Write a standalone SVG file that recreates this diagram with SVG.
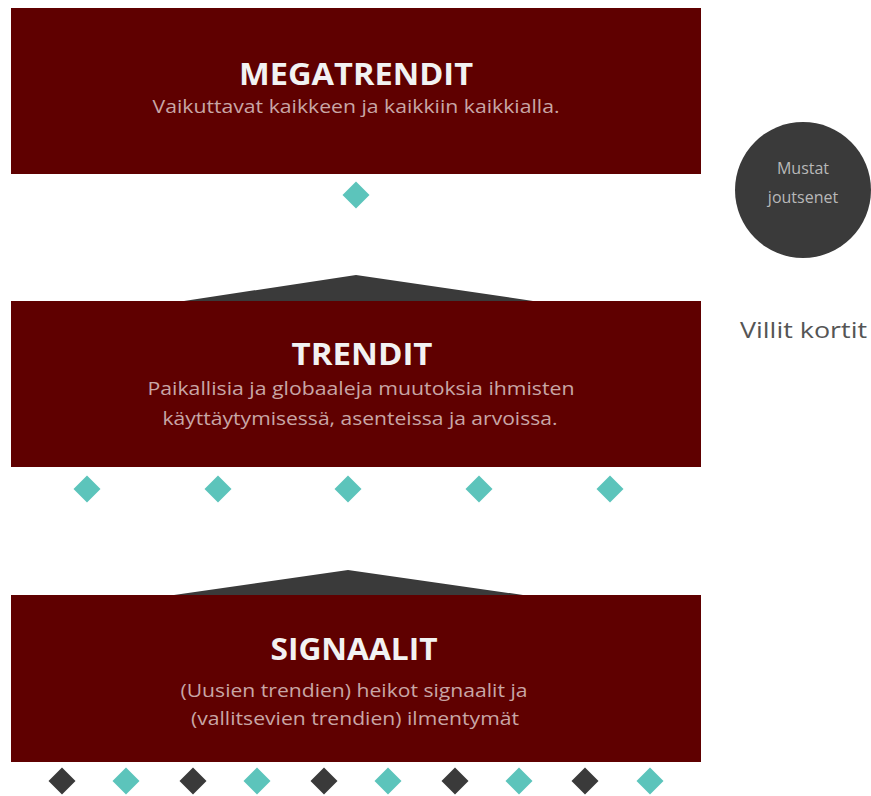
<svg xmlns="http://www.w3.org/2000/svg" width="871" height="796" viewBox="0 0 871 796">
  <style>
    .box { fill: #5f0000; }
    .roof { fill: #3a3a3a; }
    .teal { fill: #5cc4bb; }
    .dark { fill: #3a3a3a; }
    .title { font-family: "Open Sans", "Noto Sans", sans-serif; font-weight: 700; font-size: 30px; fill: #f2f2f2; text-anchor: middle; }
    .sub { font-family: "Open Sans", "Noto Sans", sans-serif; font-size: 18px; fill: #c8a6a6; text-anchor: middle; }
    .circle-text { font-family: "Open Sans", "Noto Sans", sans-serif; font-size: 16px; fill: #b8b8b8; text-anchor: middle; }
    .side { font-family: "Open Sans", "Noto Sans", sans-serif; font-size: 21px; fill: #555555; }
  </style>
  <defs>
    <path id="dia" d="M0,-13.5 L13.5,0 L0,13.5 L-13.5,0 Z"/>
  </defs>
  <rect width="871" height="796" fill="#ffffff"/>

  <!-- markers between levels -->
  <g id="connectors">
    <use href="#dia" class="teal" x="356" y="195"/>
    <polygon class="roof" points="184,301 356,275 533,301"/>
    <polygon class="roof" points="174,595 348,570 523,595"/>
    <use href="#dia" class="teal" x="87" y="489"/>
    <use href="#dia" class="teal" x="218" y="489"/>
    <use href="#dia" class="teal" x="348" y="489"/>
    <use href="#dia" class="teal" x="479" y="489"/>
    <use href="#dia" class="teal" x="610" y="489"/>
    <use href="#dia" class="dark" x="62" y="781"/>
    <use href="#dia" class="teal" x="126" y="781"/>
    <use href="#dia" class="dark" x="193" y="781"/>
    <use href="#dia" class="teal" x="257" y="781"/>
    <use href="#dia" class="dark" x="324" y="781"/>
    <use href="#dia" class="teal" x="388" y="781"/>
    <use href="#dia" class="dark" x="455" y="781"/>
    <use href="#dia" class="teal" x="519" y="781"/>
    <use href="#dia" class="dark" x="585" y="781"/>
    <use href="#dia" class="teal" x="650" y="781"/>
  </g>

  <g id="megatrendit">
    <rect class="box" x="11" y="8" width="690" height="166"/>
    <text class="title" x="356" y="85" textLength="234" lengthAdjust="spacingAndGlyphs">MEGATRENDIT</text>
    <text class="sub" x="356" y="113" textLength="407" lengthAdjust="spacingAndGlyphs">Vaikuttavat kaikkeen ja kaikkiin kaikkialla.</text>
  </g>

  <g id="trendit">
    <rect class="box" x="11" y="301" width="690" height="166"/>
    <text class="title" x="362" y="365" textLength="141" lengthAdjust="spacingAndGlyphs">TRENDIT</text>
    <text class="sub" x="361" y="395" textLength="427" lengthAdjust="spacingAndGlyphs">Paikallisia ja globaaleja muutoksia ihmisten</text>
    <text class="sub" x="360" y="425" textLength="395" lengthAdjust="spacingAndGlyphs">käyttäytymisessä, asenteissa ja arvoissa.</text>
  </g>

  <g id="signaalit">
    <rect class="box" x="11" y="595" width="690" height="167"/>
    <text class="title" x="354" y="660" textLength="167" lengthAdjust="spacingAndGlyphs">SIGNAALIT</text>
    <text class="sub" x="354" y="697" textLength="347" lengthAdjust="spacingAndGlyphs">(Uusien trendien) heikot signaalit ja</text>
    <text class="sub" x="355" y="725" textLength="328" lengthAdjust="spacingAndGlyphs">(vallitsevien trendien) ilmentymät</text>
  </g>

  <g id="mustat-joutsenet">
    <circle cx="803" cy="190" r="68" fill="#3a3a3a"/>
    <text class="circle-text" x="803" y="174">Mustat</text>
    <text class="circle-text" x="803" y="203">joutsenet</text>
  </g>

  <g id="villit-kortit">
    <text class="side" x="740" y="338" textLength="127" lengthAdjust="spacingAndGlyphs">Villit kortit</text>
  </g>
</svg>
